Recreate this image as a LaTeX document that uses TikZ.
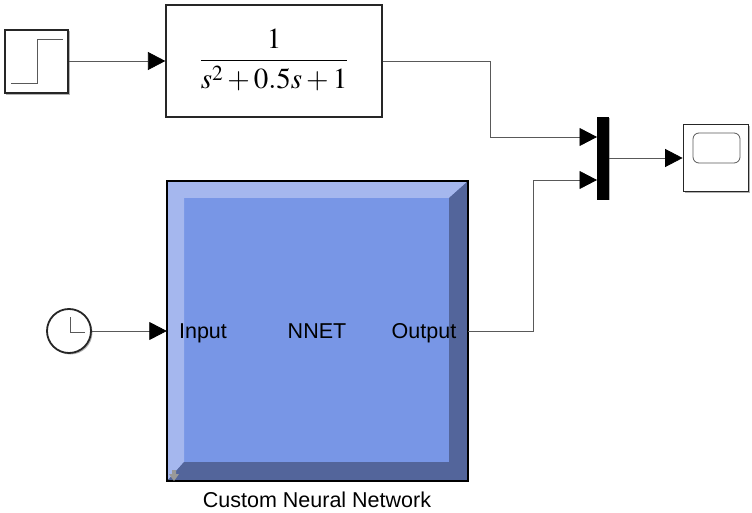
\documentclass[tikz,border=0pt]{standalone}
\usepackage{mathptmx}
\usepackage{fontspec}
\setmainfont{Liberation Sans}
\usetikzlibrary{arrows.meta,shadows}

\tikzset{
block/.style = {draw=black!85, line width=1.8pt, fill=white, minimum width=#1, inner sep=0pt,
	drop shadow={shadow xshift=1.5pt, shadow yshift=-1.5pt, opacity=.3, fill=black}},
wire/.style = {draw=black!65, line width=.8pt, -{Triangle[length=17.5pt,width=18pt,black]}},
icon/.style = {draw=black!65, line width=.8pt},
lbl/.style = {font=\fontsize{21.5}{25}\selectfont, inner sep=0pt, anchor=base}
}
\definecolor{nnetface}{RGB}{120,150,230}
\definecolor{nnetlight}{RGB}{165,183,238}
\definecolor{nnetdark}{RGB}{83,101,155}

\begin{document}
\begin{tikzpicture}[x=1pt,y=-1pt]
\useasboundingbox (0,0) rectangle (752,513);

% source blocks
\node[block=63.5pt, minimum height=63.5pt] (step) at (36.5,61.5) {};
\node[block=215.5pt, minimum height=111.5pt] (tf) at (274,61) {};
\node[inner sep=0pt, font=\fontsize{29}{34}\selectfont] (tftext) at (274,60) {$\displaystyle{1 \above 1.6pt s^2+0.5s+1}$};
\node[block=44pt, minimum height=44pt, circle] (clock) at (69,331) {};
\draw[icon] (11,83) -- (37,83) -- (37,39) -- (63,39);
\draw[icon] (70,317) -- (70,332) -- (85,332);

% mux and scope
\node[draw=black, fill=black, minimum width=11pt, minimum height=82pt, inner sep=0pt,
	drop shadow={shadow xshift=1pt, shadow yshift=-1pt, opacity=.3, fill=black}] (mux) at (603,158.5) {};
\coordinate (muxtop) at (597,137);
\coordinate (muxbot) at (597,180);
\node[block=65pt, minimum height=67pt] (scope) at (716,158) {};
\draw[icon, rounded corners=6pt] (693,133) rectangle (740,163);

% neural network block
\node[draw=black, line width=2pt, fill=nnetface, minimum width=299pt, minimum height=298.5pt, inner sep=0pt] (nnet) at (317.3,331) {};
\fill[nnetlight] (168,182) -- (467,182) -- (449,198) -- (184,198) -- (184,462) -- (168,480) -- cycle;
\fill[nnetdark] (467,182) -- (467,480) -- (168,480) -- (184,462) -- (449,462) -- (449,198) -- cycle;
\draw[black, line width=2pt] (nnet.north west) rectangle (nnet.south east);
\fill[black!40] (172,470) -- (176,470) -- (176,474) -- (179,474) -- (174,481) -- (169,474) -- (172,474) -- cycle;
\node[lbl] (input) at (203,338) {Input};
\node[lbl] (nnetname) at (317,338) {NNET};
\node[lbl] (output) at (424,338) {Output};
\node[lbl] (caption) at (317,507) {Custom Neural Network};

% connections
\draw[wire] (step.east |- tf.west) -- (tf.west);
\draw[wire] (clock.east) -- (nnet.west |- clock.east);
\draw[wire] (tf.east) -- (490,61) -- (490,137) -- (muxtop);
\draw[wire] (nnet.east) -- (533,331) -- (533,180) -- (muxbot);
\draw[wire] (mux.east |- scope.west) -- (scope.west);
\end{tikzpicture}
\end{document}
